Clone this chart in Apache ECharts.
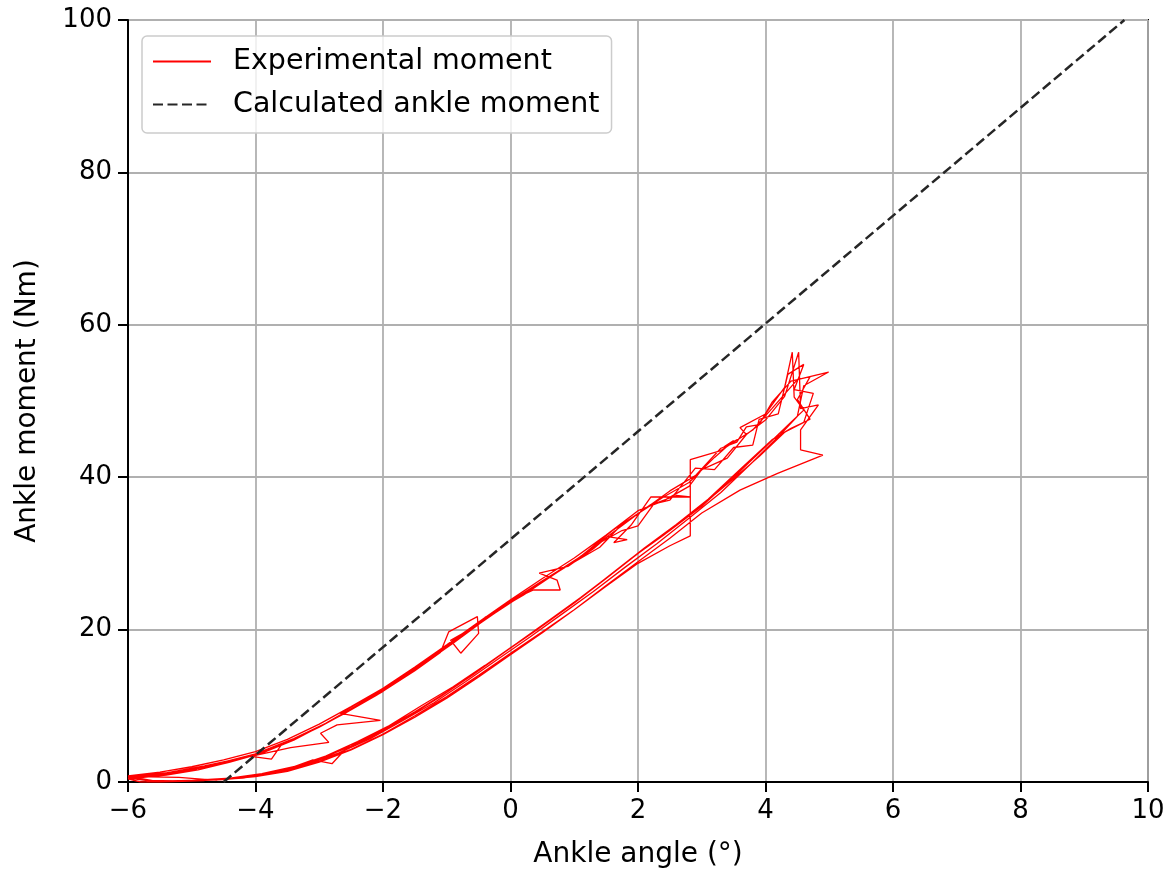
<!DOCTYPE html>
<html>
<head>
    <meta charset="utf-8" />
    <title>Ankle moment</title>
    <script src="https://cdn.jsdelivr.net/npm/echarts@6/dist/echarts.min.js"></script>
    <style>
        body { margin: 0; background: #fff; }
        #main { width: 1169px; height: 870px; }
    </style>
</head>
<body>
    <div id="main"></div>
    <script type="text/javascript">
        // experimental moment, one array per loading cycle: [angle, moment]
        var cycle1 = [[-4.6,0.2],[-5.2,0.6],[-5.9,0.7],[-5.4,1.2],[-4.8,2.1],[-4.3,3.0],[-4.0,3.5],[-3.45,4.5],[-2.85,5.2],[-2.98,6.4],[-2.72,7.5],[-2.04,8.1],[-2.67,9.0],[-2.3,10.8],[-2.0,12.1],[-1.5,14.9],[-1.0,17.7],[-0.5,20.8],[0.0,23.7],[0.5,26.4],[1.0,29.0],[1.5,32.1],[2.0,35.2],[2.4,37.4],[2.8,39.3],[3.2,42.6],[3.5,44.8],[3.35,44.0],[3.7,45.6],[3.6,46.5],[4.0,48.3],[4.3,51.8],[4.42,56.4],[4.45,50.5],
                      [4.6,48.8],[4.4,47.2],[4.0,44.0],[3.5,40.0],[3.0,36.2],[2.5,33.0],[2.0,30.0],[1.5,26.7],[1.0,23.5],[0.5,20.5],[0.0,17.6],[-0.5,14.6],[-1.0,11.8],[-1.5,9.2],[-2.0,6.8],[-2.5,4.7],[-3.0,3.0],[-3.5,1.7],[-4.0,0.9],[-4.5,0.4],[-5.0,0.2],[-5.6,0.1]];
        var cycle2 = [[-5.6,0.1],[-6.0,0.5],[-5.5,0.9],[-5.0,1.6],[-4.5,2.5],[-4.0,3.6],[-3.5,5.2],[-3.0,7.2],[-2.5,9.5],[-2.0,11.9],[-1.5,14.6],[-1.1,17.0],[-0.97,19.7],[-0.52,21.7],[-0.5,19.5],[-0.78,16.9],[-0.94,18.6],[-0.6,20.2],[-0.2,22.4],[0.2,24.6],[0.36,25.2],[0.78,25.2],[0.73,26.5],[0.45,27.4],[0.9,28.3],[1.3,30.6],[1.52,32.2],[1.83,31.8],[1.62,31.4],[1.9,33.8],[2.2,37.4],[2.82,37.4],[2.82,42.3],[3.3,43.5],[3.8,46.2],[4.1,49.0],[4.5,52.8],[4.99,53.8],[4.6,52.0],
                      [4.5,48.0],[4.2,45.3],[3.8,42.0],[3.3,38.0],[2.8,34.6],[2.3,31.3],[1.8,28.2],[1.3,25.0],[0.8,22.0],[0.3,19.0],[-0.2,16.1],[-0.7,13.2],[-1.2,10.4],[-1.7,8.0],[-2.2,5.7],[-2.7,3.8],[-3.2,2.3],[-3.7,1.2],[-4.2,0.5],[-4.8,0.2],[-5.5,0.0]];
        var cycle3 = [[-5.5,0.0],[-5.9,0.6],[-5.3,1.2],[-4.7,2.2],[-4.1,3.4],[-3.75,3.0],[-3.6,4.8],[-3.1,6.8],[-2.6,9.0],[-2.1,11.4],[-1.6,14.2],[-1.1,17.1],[-0.6,20.1],[-0.1,23.0],[0.4,25.8],[0.9,28.4],[1.4,31.4],[1.75,33.0],[2.0,33.6],[2.25,36.5],[2.6,37.6],[2.82,37.4],[2.82,32.3],
                      [2.5,31.0],[2.0,28.7],[1.5,25.7],[1.0,22.6],[0.5,19.7],[0.0,16.9],[-0.5,14.0],[-1.0,11.2],[-1.5,8.7],[-2.0,6.3],[-2.5,4.3],[-3.0,2.7],[-3.5,1.5],[-4.0,0.7],[-4.6,0.3],[-5.3,0.1]];
        var cycle4 = [[-5.7,0.2],[-6.0,0.8],[-5.5,1.3],[-5.0,2.0],[-4.5,2.9],[-4.0,4.0],[-3.5,5.6],[-3.0,7.6],[-2.5,9.9],[-2.0,12.3],[-1.5,15.1],[-1.0,18.0],[-0.5,21.0],[0.0,23.9],[0.5,26.7],[1.0,29.4],[1.5,32.4],[2.0,35.6],[2.4,36.9],[2.8,38.8],[3.0,41.0],[3.4,42.5],[3.7,45.6],[4.0,47.5],[4.3,50.6],[4.52,56.4],[4.55,49.0],[4.83,49.5],[4.55,46.2],[4.55,43.6],[4.9,42.9],[4.19,40.5],
                      [3.6,38.3],[3.0,35.3],[2.5,32.0],[2.0,28.9],[1.5,25.8],[1.0,22.6],[0.5,19.6],[0.0,16.7],[-0.5,13.8],[-1.0,11.0],[-1.5,8.5],[-2.0,6.2],[-2.5,4.2],[-3.0,2.6],[-3.5,1.4],[-4.0,0.7],[-4.5,0.3],[-5.2,0.1],[-5.8,0.0]];
        var cycle5 = [[-5.8,0.0],[-6.0,0.4],[-5.4,0.9],[-4.9,1.6],[-4.4,2.6],[-3.9,3.8],[-3.4,5.5],[-2.9,7.7],[-2.4,10.1],[-1.9,12.6],[-1.4,15.3],[-0.9,18.2],[-0.4,21.3],[0.1,24.2],[0.6,26.9],[1.1,29.6],[1.6,33.0],[2.1,35.8],[2.5,38.2],[2.9,40.2],[3.3,43.8],[3.55,44.6],[3.7,46.6],[3.9,46.9],[4.1,49.8],[4.4,52.6],[4.7,53.2],[4.5,50.2],
                      [4.7,47.6],[4.4,46.4],[4.1,44.9],[3.6,41.0],[3.1,37.1],[2.6,33.8],[2.1,30.7],[1.6,27.4],[1.1,24.2],[0.6,21.2],[0.1,18.2],[-0.4,15.3],[-0.9,12.5],[-1.4,10.0],[-1.9,7.4],[-2.4,5.3],[-2.9,3.4],[-3.4,2.0],[-3.9,1.1],[-4.4,0.5],[-5.0,0.2],[-5.6,0.1]];
        var cycle6 = [[-5.6,0.0],[-6.0,0.7],[-5.3,1.3],[-4.6,2.4],[-4.0,3.7],[-3.4,5.7],[-2.8,8.1],[-2.2,11.1],[-1.6,14.5],[-1.0,17.9],[-0.4,21.6],[0.2,24.5],[0.8,27.9],[1.4,30.8],[1.7,33.4],[2.2,36.4],[2.5,37.0],[2.9,41.2],[3.2,41.0],[3.5,43.9],[3.8,44.2],[3.9,47.6],[4.2,48.3],[4.35,53.5],[4.6,54.8],[4.45,51.5],[4.75,51.0],
                      [4.6,47.2],[4.3,45.9],[3.9,42.7],[3.4,39.1],[2.9,35.6],[2.4,32.4],[1.9,29.4],[1.4,26.1],[0.9,22.9],[0.4,19.9],[-0.1,17.0],[-0.6,14.0],[-1.1,11.2],[-1.6,8.6],[-2.1,6.2],[-2.6,4.2],[-2.8,2.4],[-3.1,2.9],[-3.6,1.4],[-4.1,0.7],[-4.7,0.3],[-5.4,0.1]];

        // calculated ankle moment (straight line)
        var calcAngle = [-4.5, 9.63];
        var calcMoment = [0, 100];

        var xTicks = [-6, 10, 2];   // min, max, step
        var yTicks = [0, 100, 20];

        var expData = cycle1.concat(cycle2, cycle3, cycle4, cycle5, cycle6);
        var calcData = [];
        for (var i = 0; i < calcAngle.length; i++) {
            calcData.push([calcAngle[i], calcMoment[i]]);
        }

        var font = 'DejaVu Sans';
        var fs = 28;       // axis names
        var tickFs = 26;   // tick labels

        var myChart = echarts.init(document.getElementById('main'));
        myChart.setOption({
            animation: false,
            grid: {
                left: 128, right: 21, top: 20, bottom: 88,
                outerBoundsMode: 'none', containLabel: false,
                show: true, borderColor: '#000', borderWidth: 2
            },
            legend: {
                orient: 'vertical',
                left: 142, top: 36,
                padding: [10, 12, 13, 10],
                itemWidth: 58, itemHeight: 14, itemGap: 12,
                backgroundColor: 'rgba(255,255,255,0.8)',
                borderColor: '#cccccc', borderWidth: 1.5, borderRadius: 5,
                itemStyle: { opacity: 0 },
                textStyle: { fontFamily: font, fontSize: 28.5, color: '#000', lineHeight: 31, padding: [0, 0, 0, 17] },
                data: ['Experimental moment', 'Calculated ankle moment']
            },
            xAxis: {
                type: 'value',
                min: xTicks[0], max: xTicks[1], interval: xTicks[2],
                name: 'Ankle angle (°)', nameLocation: 'middle', nameGap: 59,
                nameTextStyle: { fontFamily: font, fontSize: fs, color: '#000' },
                axisLine: { onZero: false, lineStyle: { color: '#000', width: 2 } },
                axisTick: { length: 10, lineStyle: { color: '#000', width: 2 } },
                axisLabel: {
                    fontFamily: font, fontSize: tickFs, color: '#000', margin: 16,
                    formatter: function (v) { return String(v).replace('-', '\u2212'); }
                },
                splitLine: { show: true, lineStyle: { color: '#b0b0b0', width: 1.8 } }
            },
            yAxis: {
                type: 'value',
                min: yTicks[0], max: yTicks[1], interval: yTicks[2],
                name: 'Ankle moment (Nm)', nameLocation: 'middle', nameGap: 86,
                nameTextStyle: { fontFamily: font, fontSize: fs, color: '#000' },
                axisLine: { onZero: false, lineStyle: { color: '#000', width: 2 } },
                axisTick: { length: 10, lineStyle: { color: '#000', width: 2 } },
                axisLabel: { fontFamily: font, fontSize: tickFs, color: '#000', margin: 16 },
                splitLine: { show: true, lineStyle: { color: '#b0b0b0', width: 1.8 } }
            },
            series: [
                {
                    name: 'Experimental moment',
                    type: 'line',
                    data: expData,
                    showSymbol: false, symbol: 'none',
                    lineStyle: { color: '#ff0000', width: 1.3 },
                    itemStyle: { color: '#ff0000' }
                },
                {
                    name: 'Calculated ankle moment',
                    type: 'line',
                    data: calcData,
                    showSymbol: false, symbol: 'none',
                    lineStyle: { color: '#262626', width: 2.5, type: [10, 4.5] },
                    itemStyle: { color: '#262626' }
                }
            ]
        });
    </script>
</body>
</html>
